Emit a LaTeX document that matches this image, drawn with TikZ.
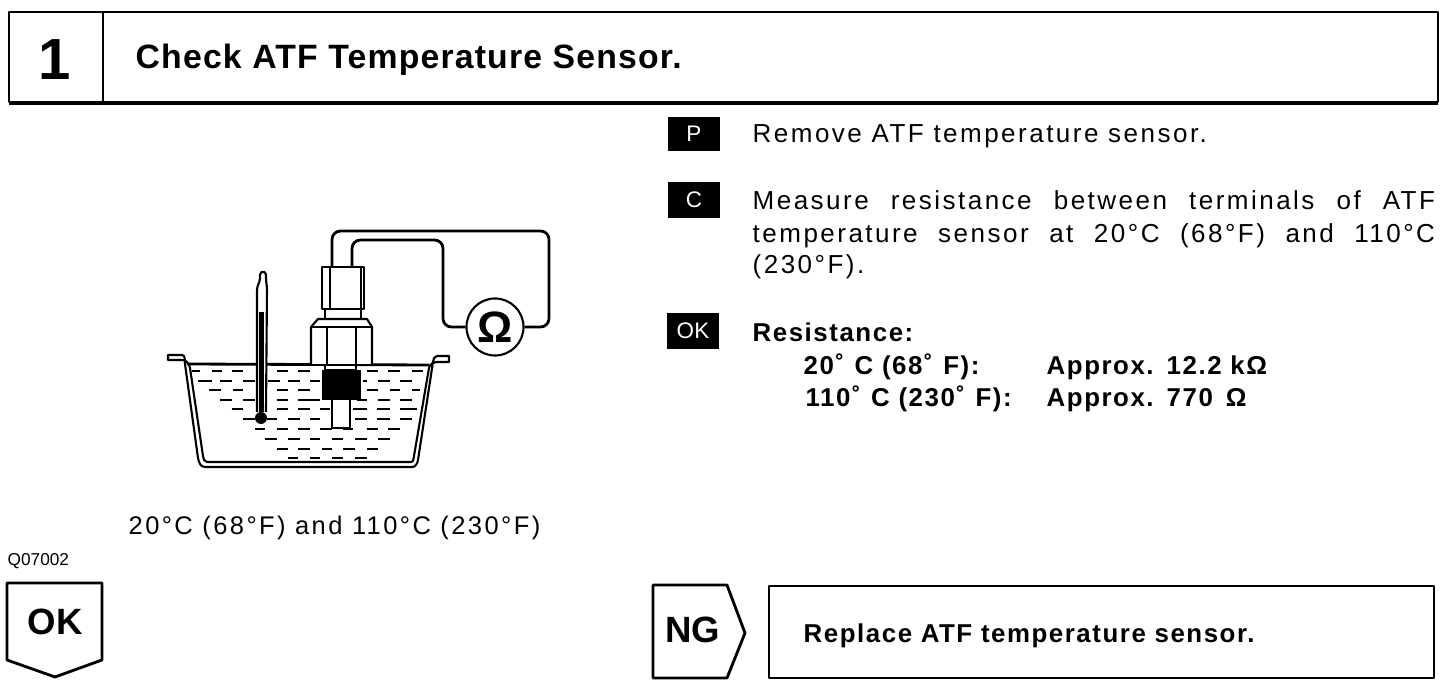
\documentclass[tikz,border=0pt]{standalone}
\usepackage{fontspec}
\setmainfont{Liberation Sans}
\newfontfamily\widefont{Liberation Sans}[LetterSpace=9.5]
\newfontfamily\boldwide{Liberation Sans Bold}[LetterSpace=6]
\newfontfamily\boldtitle{Liberation Sans Bold}[LetterSpace=3.5]
\tikzset{
	boxline/.style={line width=0.8pt, line join=round},
	panline/.style={line width=0.6pt, line join=round},
	thinline/.style={line width=0.55pt},
	label/.style={inner sep=0, anchor=base west, font=\widefont\fontsize{7.4}{9.1}\selectfont},
	boldlabel/.style={inner sep=0, anchor=base west, font=\boldwide\fontsize{7.35}{9.1}\selectfont},
	tagbox/.style={fill=black, text=white, inner sep=0, minimum width=0.51cm, font=\fontsize{6.4}{8}\selectfont},
	bigmark/.style={inner sep=0, anchor=base, font=\bfseries\fontsize{10.4}{13}\selectfont},
}
\begin{document}
\begin{tikzpicture}[x=0.01cm, y=-0.01cm]
	\useasboundingbox (0, 0) rectangle (1456, 688);
	% header
	\draw[boxline] (9, 12) rectangle (1438, 102);
	\draw[boxline] (103, 12) -- (103, 102);
	\draw[line width=1.1pt] (9, 103) -- (1438, 103);
	\node[bigmark, font=\bfseries\fontsize{16.5}{18}\selectfont] (stepnum) at (55, 80) {1};
	\node[inner sep=0, anchor=base west, font=\boldtitle\fontsize{9.6}{11}\selectfont] (title) at (135, 69) {Check ATF Temperature Sensor.};
	% pan
	\draw[panline, fill=white] (168, 355) -- (182, 355) to[out=0, in=100] (185, 364) -- (198, 458) to[out=-80, in=180] (205, 467) -- (412, 467) to[out=0, in=-100] (418, 460) -- (433, 362) to[out=80, in=180] (437, 356) -- (449, 356) -- (449, 362) -- (438, 362) to[out=180, in=80] (429, 368) -- (414, 456) to[out=-100, in=0] (411, 462) -- (207, 462) to[out=180, in=-80] (203, 456) -- (190, 368) to[out=100, in=0] (182, 360) -- (168, 360) -- cycle;
	\draw[boxline] (187, 364) -- (429, 365);
	% liquid
	\foreach \row/\segs in {
		371/{125/150,185/215,245/280,380/415,445/480,650/685,715/750,785/820},
		381/{145/185,210/245,280/315,355/390,415/450,480/510,640/650,685/720,750/785},
		390/{178/212,248/280,380/415,445/480,650/685,720/750,785/810},
		400/{210/245,280/315,380/415,445/510,620/650,685/720,750/785},
		409/{245/280,380/415,445/480,510/540,610/650,680/720,750/800},
		419/{280/315,350/380,415/450,480/510,615/650,680/720,750/785},
		429/{315/345,380/415,445/480,510/545,580/610,650/685,715/750},
		439/{345/380,415/450,480/510,545/580,615/650,685/720},
		449/{380/415,445/480,515/545,580/615,650/685},
		458/{415/445,480/510,545/580,615/650}} {
		\foreach \a/\b in \segs {
			\draw[thinline] ({150+\a/3}, \row) -- ({150+\b/3}, \row);
		}
	}
	% thermometer
	\draw[panline, fill=white, rounded corners=0.5pt] (257, 412) -- (257, 288) -- (260, 280) -- (260, 273) -- (263, 271) -- (266, 273) -- (266, 280) -- (267, 288) -- (266, 412);
	\fill (259, 312) rectangle (264, 412);
	\fill (261, 418) circle (6);
	% sensor
	\draw[panline, fill=white] (322, 267) rectangle (364, 309);
	\draw[thinline] (330, 267) -- (330, 309) (361, 267) -- (361, 309);
	\draw[panline, fill=white] (325, 309) rectangle (361, 319);
	\draw[panline, fill=white] (311, 364) -- (311, 327) -- (318, 319) -- (367, 319) -- (372, 327) -- (372, 364);
	\draw[thinline] (311, 327) -- (372, 327) (327, 327) -- (327, 364) (356, 327) -- (356, 364);
	\draw[panline, fill=white] (325, 365) rectangle (356, 370);
	\fill (322, 370) rectangle (361, 400);
	\draw[panline, fill=white] (332, 400) -- (332, 428) -- (350, 428) -- (350, 400);
	% meter and wires
	\node[draw, circle, panline, inner sep=0, minimum size=0.57cm, font=\bfseries\fontsize{12.5}{13}\selectfont] (meter) at (495, 327) {Ω};
	\coordinate (outerwire) at (332, 267);
	\coordinate (innerwire) at (352, 267);
	\draw[boxline, rounded corners=2.4pt] (outerwire) |- (549, 231) |- (meter.east);
	\draw[boxline, rounded corners=2.4pt] (innerwire) |- (443, 240) |- (meter.west);
	\node[label, font=\widefont\fontsize{7.25}{9.1}\selectfont] (caption) at (128, 535) {20°C (68°F) and 110°C (230°F)};
	\node[inner sep=0, anchor=base west, font=\fontsize{4.9}{5}\selectfont] (partcode) at (7, 566) {Q07002};
	% OK and NG marks
	\draw[boxline] (7, 583) -- (102, 583) -- (102, 660) -- (55, 677) -- (7, 660) -- cycle;
	\node[bigmark] (okmark) at (55, 635) {OK};
	\draw[boxline] (653, 585) -- (727, 585) -- (745, 633) -- (727, 678) -- (653, 678) -- cycle;
	\node[bigmark] (ngmark) at (693, 643) {NG};
	\draw[boxline] (769, 586) rectangle (1434, 678);
	\node[boldlabel] (replace) at (803, 643) {Replace ATF temperature sensor.};
	% instructions
	\node[tagbox, minimum height=0.34cm] (tagp) at (694, 134) {P};
	\node[label] (remove) at (752, 143) {Remove ATF temperature sensor.};
	\node[tagbox, minimum height=0.35cm] (tagc) at (694, 200) {C};
	\node[label] (measurea) at (752, 210) {\makebox[6.82cm][s]{Measure resistance between terminals of ATF}};
	\node[label] (measureb) at (752, 243) {\makebox[6.82cm][s]{temperature sensor at 20°C (68°F) and 110°C}};
	\node[label] (measurec) at (752, 274) {(230°F).};
	\node[tagbox, minimum height=0.35cm] (tagok) at (693, 331) {OK};
	\node[boldlabel] (resist) at (752, 342) {Resistance:};
	\node[boldlabel] (lowtemp) at (803, 375) {20˚\hspace{3pt}C (68˚\hspace{3pt}F):};
	\node[boldlabel] (lowval) at (1046, 375) {Approx.\,\ 12.2 kΩ};
	\node[boldlabel] (hightemp) at (805, 407) {110˚\hspace{3pt}C (230˚\hspace{3pt}F):};
	\node[boldlabel] (highval) at (1046, 407) {Approx.\,\ 770\,\ Ω};
\end{tikzpicture}
\end{document}
